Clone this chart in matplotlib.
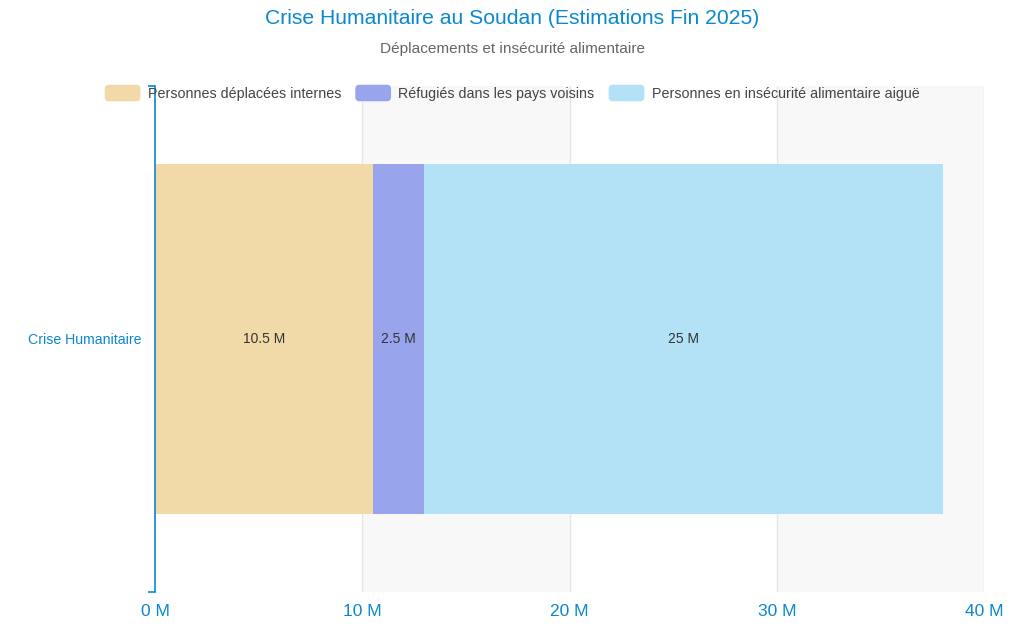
import matplotlib
matplotlib.use("Agg")
import matplotlib.pyplot as plt
from matplotlib.patches import FancyBboxPatch, Patch
from matplotlib.legend_handler import HandlerPatch

# --------------------------------------------------------------
# Data
# --------------------------------------------------------------
category = ["Crise Humanitaire"]
series_names = [
    "Personnes déplacées internes",
    "Réfugiés dans les pays voisins",
    "Personnes en insécurité alimentaire aiguë",
]
series_values = [10.5, 2.5, 25]
series_labels = ["10.5 M", "2.5 M", "25 M"]
series_colors = ["#f2d9a8", "#98a4eb", "#b3e1f5"]
x_ticks = [0, 10, 20, 30, 40]

BLUE = "#0a88cf"
plt.rcParams["font.family"] = ["Liberation Sans", "DejaVu Sans"]


class RoundHandler(HandlerPatch):
    def create_artists(self, legend, orig_handle, xdescent, ydescent,
                       width, height, fontsize, trans):
        p = FancyBboxPatch((-xdescent, -ydescent), width, height,
                           boxstyle="round,pad=0,rounding_size=3",
                           facecolor=orig_handle.get_facecolor(),
                           edgecolor="none", transform=trans)
        return [p]


fig = plt.figure(figsize=(10.24, 6.4), dpi=100)
ax = fig.add_axes([155 / 1024, 48 / 640, 829 / 1024, 506 / 640])

# alternating background bands and grid
for i, x in enumerate(x_ticks[:-1]):
    if i % 2 == 1:
        ax.axvspan(x, x_ticks[i + 1], color="#f8f8f8", zorder=0, lw=0)
for x in x_ticks[1:]:
    ax.axvline(x, color="#e6e6e6", lw=1, zorder=0.5)

# stacked bar
left = 0
for name, val, lab, col in zip(series_names, series_values, series_labels, series_colors):
    ax.barh(category, val, left=left, height=0.69, color=col, label=name, zorder=2)
    ax.text(left + val / 2, 0, lab, ha="center", va="center",
            fontsize=10, color="#333333", zorder=3)
    left += val

ax.set_xlim(0, 40)
ax.set_ylim(-0.5, 0.5)
ax.set_xticks(x_ticks)
ax.set_xticklabels([f"{t} M" for t in x_ticks])
ax.tick_params(axis="x", length=0, labelsize=12.5, labelcolor=BLUE, pad=9)
ax.tick_params(axis="y", which="major", length=0, labelsize=10.2, labelcolor=BLUE, pad=10)
ax.set_yticks([-0.5, 0.5], minor=True)
ax.tick_params(axis="y", which="minor", length=5, color=BLUE, width=1.2)

for s in ["top", "right", "bottom"]:
    ax.spines[s].set_visible(False)
ax.spines["left"].set_color(BLUE)
ax.spines["left"].set_linewidth(1.2)
ax.spines["left"].set_zorder(4)

# titles
fig.text(0.5, 1 - 18 / 640, "Crise Humanitaire au Soudan (Estimations Fin 2025)",
         ha="center", va="center", fontsize=15.2, color=BLUE)
fig.text(0.5, 1 - 49 / 640, "Déplacements et insécurité alimentaire",
         ha="center", va="center", fontsize=11.1, color="#666666")

handles = [Patch(facecolor=c) for c in series_colors]
fig.legend(handles, series_names, loc="center", bbox_to_anchor=(0.5, 1 - 93 / 640),
           ncol=3, frameon=False, fontsize=10.3, handlelength=2.5, handleheight=1.4,
           handletextpad=0.5, columnspacing=1.0, borderpad=0, labelcolor="#444444",
           handler_map={Patch: RoundHandler()})

fig.savefig("out.png", dpi=100)
